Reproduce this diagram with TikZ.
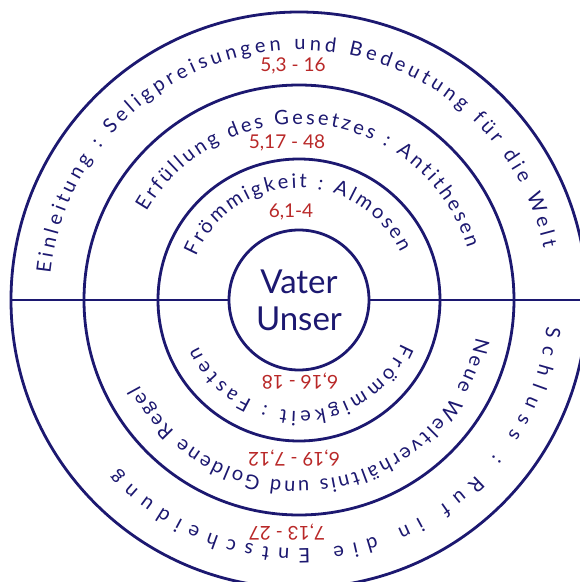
\documentclass[tikz,border=0pt]{standalone}
\usepackage{fontspec}
\setmainfont{Lato}
\usetikzlibrary{decorations.text}
\definecolor{navy}{RGB}{28,24,112}
\definecolor{refred}{RGB}{185,40,40}
\newcommand\bandfont{\fontsize{20}{24}\selectfont}
\newcommand\numfont{\fontsize{19}{22}\selectfont}
\tikzset{
  ring/.style={circle, draw=navy, line width=2.8pt, inner sep=0pt, outer sep=0pt},
  divider/.style={draw=navy, line width=1.3pt},
  arctext/.style={decorate, decoration={text along path, text align={fit to path}, text color=navy, text={|\bandfont|#1}}},
  refnum/.style={text=refred, font=\numfont, inner sep=0pt},
}
\begin{document}
\begin{tikzpicture}[x=1pt,y=1pt]
\useasboundingbox (-299,-282) rectangle (281,300);
\clip (-299,-282) rectangle (281,300);
\fill[white] (-299,-282) rectangle (281,300);
\node[ring, minimum size=576pt] (outer) at (0,0) {};
\node[ring, minimum size=430pt] (second) at (0,0) {};
\node[ring, minimum size=282pt] (third) at (0,0) {};
\node[ring, minimum size=140pt, text=navy, font=\fontsize{33}{37}\selectfont, align=center] (center) at (0,0) {Vater\\Unser};
\draw[divider] (outer.west) -- (center.west);
\draw[divider] (center.east) -- (outer.east);
% upper texts
\path[arctext={Einleitung : Seligpreisungen und Bedeutung für die Welt}] (174:250) arc[start angle=174, end angle=12, radius=250];
\path[arctext={Erfüllung des Gesetzes : Antithesen}] (150:176) arc[start angle=150, end angle=17, radius=176];
\path[arctext={Frömmigkeit : Almosen}] (157:112) arc[start angle=157, end angle=25, radius=112];
% lower texts
\path[arctext={Schluss : Ruf in die Entscheidung}] (-6:249) arc[start angle=-6, end angle=-137, radius=249];
\path[arctext={Neue Weltverhältnis und Goldene Regel}] (-12:181) arc[start angle=-12, end angle=-152, radius=181];
\path[arctext={Frömmigkeit : Fasten}] (-23:111) arc[start angle=-23, end angle=-155, radius=111];
% references
\node[refnum] (n1) at (-6,234) {5,3 - 16};
\node[refnum] (n2) at (-12,157) {5,17 - 48};
\node[refnum] (n3) at (-8,88) {6,1-4};
\node[refnum, rotate=180] (n4) at (1,-81) {6,16 - 18};
\node[refnum, rotate=180] (n5) at (-5,-158) {6,19 - 7,12};
\node[refnum, rotate=180] (n6) at (-12,-232) {7,13 - 27};
\end{tikzpicture}
\end{document}
